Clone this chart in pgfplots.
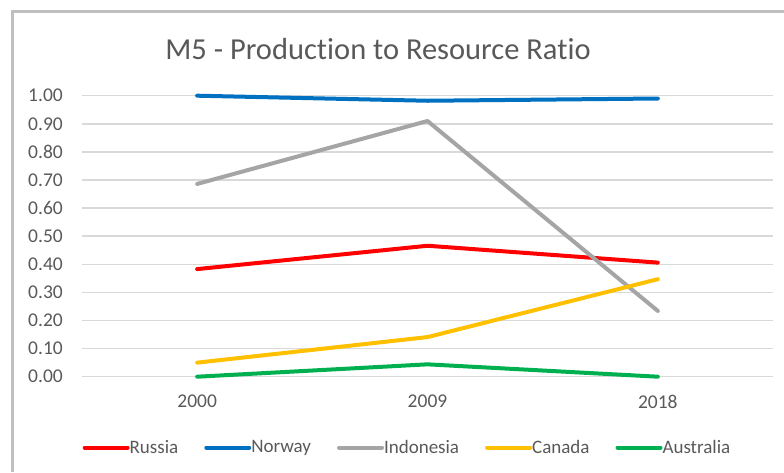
\documentclass[border=0pt]{standalone}
\usepackage{pgfplots}
\pgfplotsset{compat=1.18}
\usepackage{fontspec}
\setmainfont[Ligatures=NoCommon]{Carlito}
\definecolor{txt}{HTML}{595959}
\definecolor{gridc}{HTML}{D9D9D9}
\definecolor{cRus}{HTML}{FF0000}
\definecolor{cNor}{HTML}{0070C0}
\definecolor{cIdn}{HTML}{A5A5A5}
\definecolor{cCan}{HTML}{FFC000}
\definecolor{cAus}{HTML}{00B050}
\begin{document}
\begin{tikzpicture}[x=1pt,y=1pt]
\useasboundingbox (0,0) rectangle (784,472);
\draw[color=black!25, line width=3pt] (12,0) -- (12,460) -- (784,460);
\node[anchor=base, text=txt, font=\fontsize{30.5}{33}\selectfont] at (378,412) {M5 - Production to Resource Ratio};
\begin{axis}[
  at={(82pt,95.3pt)}, anchor=south west,
  width=691pt, height=281pt, scale only axis,
  xmin=-0.5, xmax=2.5, ymin=0, ymax=1,
  axis line style={draw=none}, clip=false,
  xtick={0,1,2}, xticklabels={2000,2009,2018},
  ytick={0,0.1,0.2,0.3,0.4,0.5,0.6,0.7,0.8,0.9,1.0},
  yticklabel style={/pgf/number format/.cd, fixed, fixed zerofill, precision=2, /tikz/.cd},
  /pgf/number format/assume math mode=true,
  xmajorgrids=false, ymajorgrids=true,
  major grid style={draw=gridc, line width=1.5pt},
  major tick length=0pt, tick style={draw=none},
  tick label style={text=txt, font=\fontsize{19.5}{22}\selectfont, inner sep=0pt},
  yticklabel style={anchor=east, xshift=-19pt},
  xticklabel style={anchor=north, yshift=-18pt},
  every axis plot/.append style={line width=4pt, line cap=round, line join=round},
  legend columns=5,
  legend style={at={(rel axis cs:0.471,-0.252)}, anchor=center, draw=none, fill=none,
    font=\fontsize{19}{22}\selectfont, text=txt,
    /tikz/every even column/.append style={column sep=24pt},
    /tikz/every odd column/.append style={column sep=0pt},
    inner sep=0pt},
  legend image code/.code={\draw[#1, line width=4pt, line cap=round] (0pt,0pt) -- (43pt,0pt);},
  legend cell align=left,
]
\addplot[cRus] coordinates {(0,0.383) (1,0.466) (2,0.406)};
\addlegendentry{\hspace{-2pt}Russia}
\addplot[cNor] coordinates {(0,1.000) (1,0.982) (2,0.990)};
\addlegendentry{\hspace{-2pt}Norway}
\addplot[cIdn] coordinates {(0,0.686) (1,0.910) (2,0.234)};
\addlegendentry{\hspace{-2pt}Indonesia}
\addplot[cCan] coordinates {(0,0.050) (1,0.141) (2,0.347)};
\addlegendentry{\hspace{-2pt}Canada}
\addplot[cAus] coordinates {(0,0.000) (1,0.044) (2,0.000)};
\addlegendentry{\hspace{-2pt}Australia}
\end{axis}
\end{tikzpicture}
\end{document}
